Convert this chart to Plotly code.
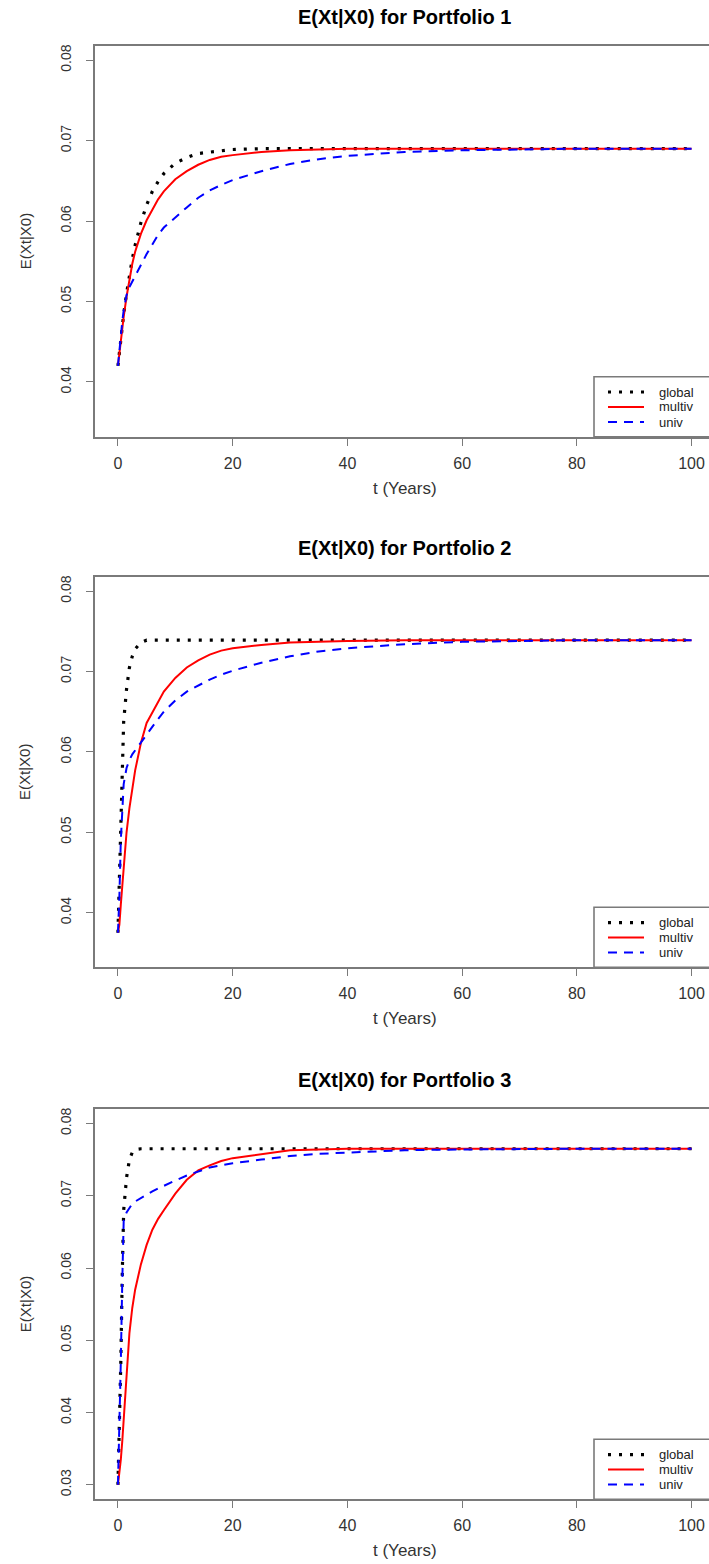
import plotly.graph_objects as go

# ---------------- data ----------------
t = [0, 0.25, 0.5, 0.75, 1, 1.5, 2, 2.5, 3, 4, 5, 6, 7, 8, 10, 12, 14, 16, 18, 20,
     25, 30, 35, 40, 50, 60, 70, 80, 90, 100]

p1_global = [0.0420, 0.0438, 0.0454, 0.0469, 0.0484, 0.0510, 0.0533, 0.0553, 0.0570, 0.0598,
             0.0620, 0.0637, 0.0649, 0.0659, 0.0672, 0.0679, 0.0684, 0.0686, 0.0688, 0.0689,
             0.0690, 0.0690, 0.0690, 0.0690, 0.0690, 0.0690, 0.0690, 0.0690, 0.0690, 0.0690]
p1_multiv = [0.0420, 0.0437, 0.0452, 0.0467, 0.0481, 0.0506, 0.0528, 0.0547, 0.0562, 0.0584,
             0.0601, 0.0615, 0.0627, 0.0637, 0.0652, 0.0662, 0.0670, 0.0676, 0.0680, 0.0682,
             0.0686, 0.0688, 0.0689, 0.0690, 0.0690, 0.0690, 0.0690, 0.0690, 0.0690, 0.0690]
p1_univ = [0.0420, 0.0440, 0.0458, 0.0475, 0.0489, 0.0508, 0.0518, 0.0525, 0.0532, 0.0546,
           0.0559, 0.0571, 0.0583, 0.0592, 0.0605, 0.0617, 0.0629, 0.0638, 0.0645, 0.0651,
           0.0662, 0.0671, 0.0677, 0.0681, 0.0686, 0.0688, 0.0689, 0.0690, 0.0690, 0.0690]

p2_global = [0.0375, 0.0440, 0.0515, 0.0595, 0.0638, 0.0678, 0.0705, 0.0719, 0.0728, 0.0736,
             0.0739, 0.0739, 0.0739, 0.0739, 0.0739, 0.0739, 0.0739, 0.0739, 0.0739, 0.0739,
             0.0739, 0.0739, 0.0739, 0.0739, 0.0739, 0.0739, 0.0739, 0.0739, 0.0739, 0.0739]
p2_multiv = [0.0375, 0.0385, 0.0410, 0.0435, 0.0458, 0.0500, 0.0530, 0.0555, 0.0577, 0.0611,
             0.0636, 0.0649, 0.0662, 0.0675, 0.0692, 0.0705, 0.0714, 0.0721, 0.0726, 0.0729,
             0.0733, 0.0736, 0.0737, 0.0738, 0.0739, 0.0739, 0.0739, 0.0739, 0.0739, 0.0739]
p2_univ = [0.0375, 0.0420, 0.0490, 0.0535, 0.0560, 0.0580, 0.0590, 0.0597, 0.0602, 0.0612,
           0.0622, 0.0632, 0.0641, 0.0650, 0.0664, 0.0675, 0.0683, 0.0690, 0.0696, 0.0701,
           0.0711, 0.0719, 0.0725, 0.0729, 0.0734, 0.0737, 0.0738, 0.0739, 0.0739, 0.0739]

p3_global = [0.0300, 0.0370, 0.0470, 0.0590, 0.0680, 0.0725, 0.0750, 0.0760, 0.0764, 0.0765,
             0.0765, 0.0765, 0.0765, 0.0765, 0.0765, 0.0765, 0.0765, 0.0765, 0.0765, 0.0765,
             0.0765, 0.0765, 0.0765, 0.0765, 0.0765, 0.0765, 0.0765, 0.0765, 0.0765, 0.0765]
p3_multiv = [0.0300, 0.0315, 0.0335, 0.0360, 0.0390, 0.0455, 0.0510, 0.0545, 0.0570, 0.0605,
             0.0632, 0.0653, 0.0668, 0.0680, 0.0703, 0.0722, 0.0735, 0.0742, 0.0748, 0.0752,
             0.0758, 0.0763, 0.0764, 0.0765, 0.0765, 0.0765, 0.0765, 0.0765, 0.0765, 0.0765]
p3_univ = [0.0300, 0.0370, 0.0470, 0.0580, 0.0665, 0.0677, 0.0684, 0.0689, 0.0692, 0.0697,
           0.0702, 0.0706, 0.0710, 0.0714, 0.0721, 0.0728, 0.0734, 0.0739, 0.0742, 0.0745,
           0.0750, 0.0755, 0.0758, 0.0760, 0.0763, 0.0764, 0.0765, 0.0765, 0.0765, 0.0765]

titles = ["E(Xt|X0) for Portfolio 1", "E(Xt|X0) for Portfolio 2", "E(Xt|X0) for Portfolio 3"]
series_names = ["global", "multiv", "univ"]
x_ticks = [0, 20, 40, 60, 80, 100]
y_ticks_12 = [0.04, 0.05, 0.06, 0.07, 0.08]
y_ticks_3 = [0.03, 0.04, 0.05, 0.06, 0.07, 0.08]
x_label = "t (Years)"
y_label = "E(Xt|X0)"

# ---------------- layout geometry ----------------
W, H = 709, 1564
FONT = "Liberation Sans, Arial, sans-serif"
GRAY = "#7a7a7a"
TXT = "#333333"

def fx(px):
    return px / W

def fy(px):
    return 1 - px / H

panels = [
    dict(top=45.7, bottom=436.7, yr=[0.0332, 0.0818], yt=y_ticks_12,
         data=[p1_global, p1_multiv, p1_univ]),
    dict(top=576.7, bottom=967.3, yr=[0.0332, 0.0818], yt=y_ticks_12,
         data=[p2_global, p2_multiv, p2_univ]),
    dict(top=1109.0, bottom=1499.3, yr=[0.028, 0.082], yt=y_ticks_3,
         data=[p3_global, p3_multiv, p3_univ]),
]
x_left_px = 95.0
x_right_px = 714.5          # plot-region right edge (just outside the window)
x_range = [-4, 103.04]      # value at the window's right edge
styles = [
    dict(color="black", width=3.2, dash="3px,8px"),
    dict(color="#ff0000", width=2),
    dict(color="#0000ff", width=2, dash="9px,7px"),
]

fig = go.Figure()
annotations = []
shapes = []
layout = {}
for i, p in enumerate(panels):
    n = "" if i == 0 else str(i + 1)
    xa, ya = "x" + n, "y" + n
    for s, (name, vals) in enumerate(zip(series_names, p["data"])):
        fig.add_trace(go.Scatter(
            x=t, y=vals, mode="lines", name=name, xaxis=xa, yaxis=ya,
            line=styles[s], showlegend=False))
    layout["xaxis" + n] = dict(
        domain=[fx(x_left_px), 1], range=x_range, anchor=ya,
        tickvals=x_ticks, ticks="outside", ticklen=7, tickcolor=GRAY, tickwidth=1.3,
        showline=True, linecolor=GRAY, linewidth=1.6, mirror=True,
        showgrid=False, zeroline=False, ticklabelstandoff=4, ticklabeloverflow="allow",
        tickfont=dict(family=FONT, size=16, color=TXT))
    layout["yaxis" + n] = dict(
        domain=[fy(p["bottom"]), fy(p["top"])], range=p["yr"], anchor=xa,
        tickvals=p["yt"], tickformat=".2f", tickangle=-90,
        ticks="outside", ticklen=7, tickcolor=GRAY, tickwidth=1.3,
        showline=True, linecolor=GRAY, linewidth=1.6, mirror=False,
        showgrid=False, zeroline=False, ticklabelstandoff=10,
        tickfont=dict(family=FONT, size=14, color=TXT))

    # legend box (bottom-right, extends past the window edge like the original)
    box_top = p["bottom"] - 60
    shapes.append(dict(type="rect", xref="paper", yref="paper",
                       x0=fx(594), x1=fx(x_right_px), y0=fy(p["bottom"]), y1=fy(box_top),
                       line=dict(color=GRAY, width=1.6), fillcolor="white", layer="above"))
    for s, name in enumerate(series_names):
        row = box_top + 15.3 + 15 * s
        st = styles[s]
        shapes.append(dict(type="line", xref="paper", yref="paper",
                           x0=fx(608), x1=fx(644), y0=fy(row), y1=fy(row), layer="above",
                           line=dict(color=st["color"], width=st["width"],
                                     dash=st.get("dash", "solid"))))
        annotations.append(dict(text=name, xref="paper", yref="paper",
                                x=fx(657), y=fy(row), xanchor="left", yanchor="middle",
                                showarrow=False,
                                font=dict(family=FONT, size=13, color="#222222")))

    cx = fx((x_left_px + x_right_px) / 2)
    annotations.append(dict(text="<b>" + titles[i] + "</b>", xref="paper", yref="paper",
                            x=cx, y=fy(p["top"] - 29), xanchor="center", yanchor="middle",
                            showarrow=False, font=dict(family=FONT, size=20, color="black")))
    annotations.append(dict(text=x_label, xref="paper", yref="paper",
                            x=cx, y=fy(p["bottom"] + 51.5), xanchor="center", yanchor="middle",
                            showarrow=False, font=dict(family=FONT, size=17, color=TXT)))
    annotations.append(dict(text=y_label, xref="paper", yref="paper", textangle=-90,
                            x=fx(25), y=fy((p["top"] + p["bottom"]) / 2),
                            xanchor="center", yanchor="middle",
                            showarrow=False, font=dict(family=FONT, size=15, color=TXT)))

fig.update_layout(
    width=W, height=H, margin=dict(l=0, r=0, t=0, b=0),
    paper_bgcolor="white", plot_bgcolor="rgba(0,0,0,0)",
    annotations=annotations, shapes=shapes, **layout)

# remove the default 8px page margin so the figure fills the window exactly
fig.write_html("out.html", config={"displayModeBar": False},
               post_script="document.body.style.margin='0px';document.body.style.overflow='hidden';")
